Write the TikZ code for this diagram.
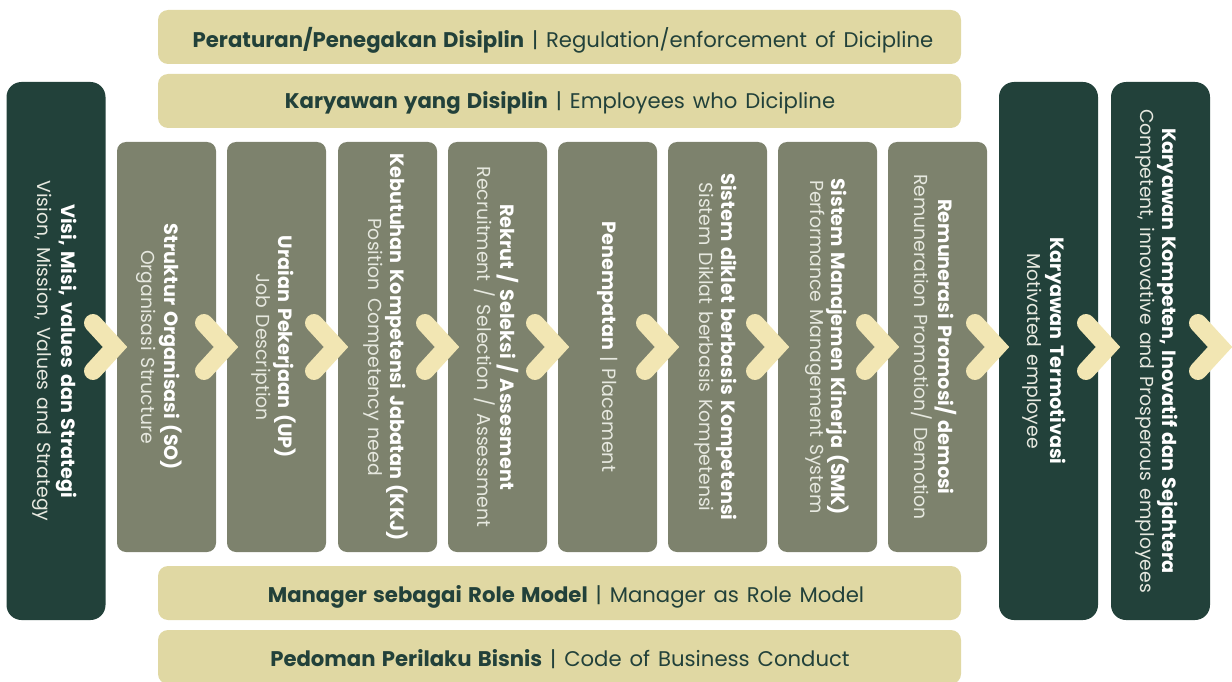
\documentclass[tikz,border=0pt]{standalone}
\usepackage{fontspec}
\setmainfont{Poppins}[WordSpace=1.4]
\definecolor{dkgreen}{HTML}{22413A}
\definecolor{sage}{HTML}{7D826D}
\definecolor{tan}{HTML}{E0D8A3}
\definecolor{chevc}{HTML}{F2E6B3}
\definecolor{subc}{HTML}{E6E8DF}
\tikzset{
  darkbox/.style={fill=dkgreen, rounded corners=15pt, minimum width=99pt, minimum height=538pt, inner sep=0pt},
  graybox/.style={fill=sage, rounded corners=9pt, minimum width=99pt, minimum height=410pt, inner sep=0pt},
  tanbox/.style={fill=tan, rounded corners=10pt, minimum width=803pt, minimum height=54pt, inner sep=0pt},
  tantext/.style={text=dkgreen, font=\fontsize{21.2}{23}\selectfont, inner sep=0pt},
  ttl/.style={rotate=-90, text=white, font=\fontsize{19.2}{21}\selectfont\bfseries, inner sep=0pt},
  sub/.style={rotate=-90, text=subc, font=\fontsize{18.8}{21}\selectfont, inner sep=0pt},
  chev/.style={draw=chevc, line width=18pt, line cap=round, line join=miter}
}
\newcommand{\mychev}[1]{\draw[chev] (#1-22,323) -- (#1,347) -- (#1-22,371);}
\begin{document}
\begin{tikzpicture}[x=1pt,y=-1pt]
\useasboundingbox (0,0) rectangle (1232,682);
% tan bands
\node[tanbox] (t1) at (559.5,37) {};
\node[tanbox] (t2) at (559.5,101) {};
\node[tanbox] (t3) at (559.5,593) {};
\node[tanbox] (t4) at (559.5,657) {};
\node[tantext] (t1x) at (563,40) {\textbf{Peraturan/Penegakan Disiplin} | Regulation/enforcement of Dicipline};
\node[tantext] (t2x) at (560,103) {\textbf{Karyawan yang Disiplin} | Employees who Dicipline};
\node[tantext] (t3x) at (566,597) {\textbf{Manager sebagai Role Model} | Manager as Role Model};
\node[tantext] (t4x) at (560,659) {\textbf{Pedoman Perilaku Bisnis} | Code of Business Conduct};
% columns
\node[darkbox] (d1) at (56,351) {};
\node[graybox] (g1) at (166.5,347) {};
\node[graybox] (g2) at (276.5,347) {};
\node[graybox] (g3) at (387.5,347) {};
\node[graybox] (g4) at (497.5,347) {};
\node[graybox] (g5) at (607.5,347) {};
\node[graybox] (g6) at (717.5,347) {};
\node[graybox] (g7) at (827.5,347) {};
\node[graybox] (g8) at (937.5,347) {};
\node[darkbox] (d2) at (1048.5,351) {};
\node[darkbox] (d3) at (1160.5,351) {};
% texts
\node[ttl] (d1t) at (67,351) {Visi, Misi, values dan Strategi};
\node[sub] (d1s) at (42,351) {Vision, Mission, Values and Strategy};
\node[ttl] (g1t) at (171,347) {Struktur Organisasi (SO)};
\node[sub] (g1s) at (146,347) {Organisasi Structure};
\node[ttl] (g2t) at (285,347) {Uraian Pekerjaan (UP)};
\node[sub] (g2s) at (261,347) {Job Description};
\node[ttl] (g3t) at (397,347) {Kebutuhan Kompetensi Jabatan (KKJ)};
\node[sub] (g3s) at (373,347) {Position Competency need};
\node[ttl] (g4t) at (508,347) {Rekrut / Seleksi / Assesment};
\node[sub] (g4s) at (485,347) {Recruitment / Selection / Assessment};
\node[ttl] (g5t) at (607.5,347) {Penempatan \mdseries\color{subc}| Placement};
\node[ttl] (g6t) at (727,347) {Sistem diklet berbasis Kompetensi};
\node[sub] (g6s) at (704,347) {Sistem Diklat berbasis Kompetensi};
\node[ttl] (g7t) at (838,347) {Sistem Manajemen Kinerja (SMK)};
\node[sub] (g7s) at (815,347) {Performance Management System};
\node[ttl] (g8t) at (946,347) {Remunerasi Promosi/ demosi};
\node[sub] (g8s) at (922,347) {Remuneration Promotion/ Demotion};
\node[ttl] (d2t) at (1056,351) {Karyawan Termotivasi};
\node[sub] (d2s) at (1032,351) {Motivated employee};
\node[ttl] (d3t) at (1168,351) {Karyawan Kompeten, Inovatif dan Sejahtera};
\node[sub] (d3s) at (1145,351) {Competent, innovative and Prosperous employees};
% chevrons
\mychev{115}
\mychev{226}
\mychev{336}
\mychev{447}
\mychev{557}
\mychev{667}
\mychev{777}
\mychev{887}
\mychev{997}
\mychev{1108}
\mychev{1220}
\end{tikzpicture}
\end{document}
